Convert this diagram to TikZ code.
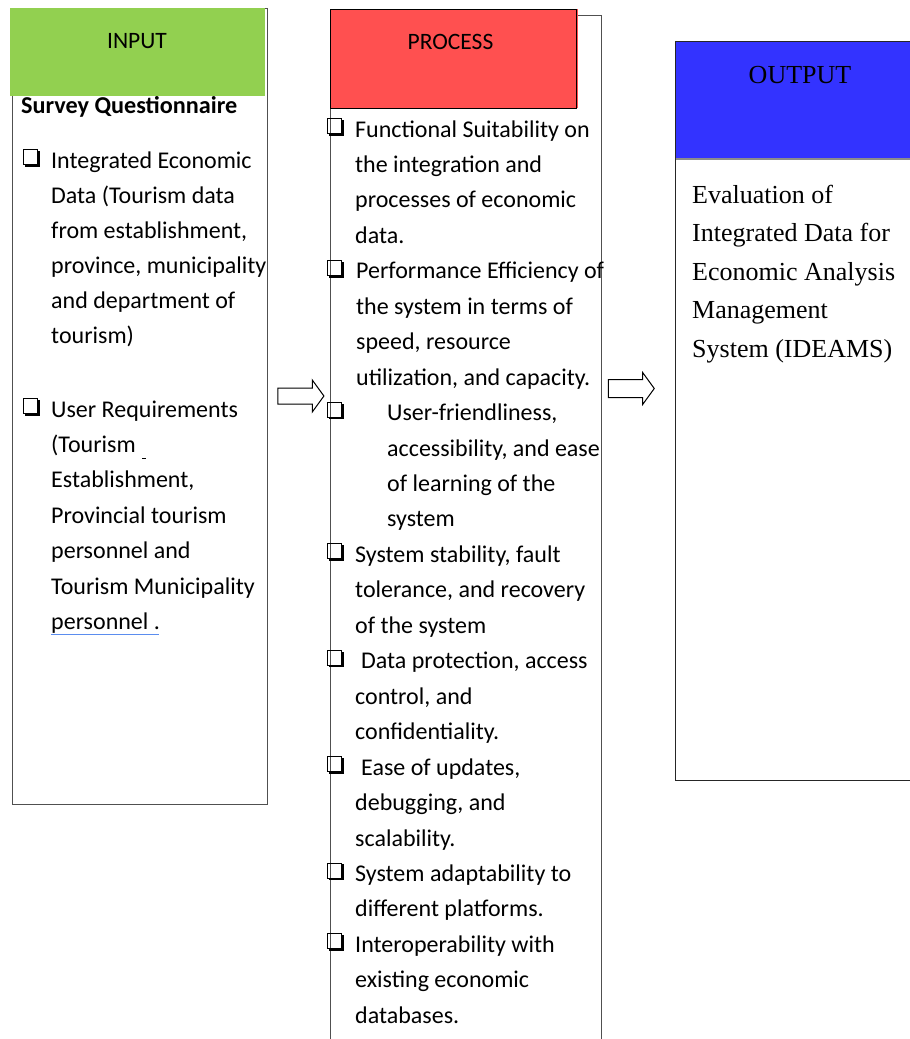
\documentclass[tikz,border=0pt]{standalone}
\usepackage{fontspec}
\setmainfont{Carlito}
\newfontfamily\tnr{Liberation Serif}
\usetikzlibrary{shapes.arrows}
\definecolor{ingreen}{HTML}{92D050}
\definecolor{procred}{HTML}{FF5050}
\definecolor{outblue}{HTML}{3333FF}
\definecolor{boxgray}{HTML}{505050}
\definecolor{ulblue}{HTML}{5B8DEF}
\begin{document}
\begin{tikzpicture}[x=1pt,y=-1pt,
  txt/.style={anchor=base west, inner sep=0pt, font=\fontsize{24}{28}\selectfont},
  headtxt/.style={anchor=base, inner sep=0pt, font=\fontsize{23.5}{28}\selectfont},
  otxt/.style={anchor=base west, inner sep=0pt, font=\tnr\fontsize{26}{31}\selectfont},
  frame/.style={draw=boxgray, line width=0.9pt, inner sep=0pt, anchor=north west},
  blockarrow/.style={shape=single arrow, draw=black, line width=1pt, fill=white,
    inner xsep=0pt, single arrow head indent=0pt, single arrow tip angle=108},
  cbox/.pic={\draw[line width=0.9pt] (0,0) rectangle (14,15);
             \draw[line width=2.2pt] (1.5,16.1) -- (15.1,16.1) -- (15.1,1.5);}
]
\useasboundingbox (0,0) rectangle (910,1039);
% ---------- INPUT ----------
\node[frame, minimum width=255pt, minimum height=796pt] (inbox) at (12,8) {};
\node[fill=ingreen, inner sep=0pt, anchor=north west, minimum width=255pt, minimum height=88pt] (inhead) at (10,8) {};
\node[headtxt] (intitle) at (137,48) {INPUT};
\node[txt, font=\fontsize{24.2}{28}\selectfont\bfseries] (survey) at (21,113) {Survey Questionnaire};
\pic at (23.5,149.5) {cbox};
\foreach \t [count=\i from 0] in {{Integrated Economic},{Data (Tourism data},{from establishment,},{province, municipality},{and department of},{tourism)}}
  \node[txt] (inA\i) at (51,{168+35.1*\i}) {\t};
\pic at (23.5,398.5) {cbox};
\foreach \t [count=\i from 0] in {{User Requirements},{(Tourism},{Establishment,},{Provincial tourism},{personnel and},{Tourism Municipality},{personnel .}}
  \node[txt] (inB\i) at (51,{417+35.45*\i}) {\t};
\draw[line width=1pt] (142,458.5) -- (145.5,458.5);
\draw[ulblue, line width=1.3pt] (inB6.base west) ++(0,4.5) -- ++(108,0);
% ---------- PROCESS ----------
\node[frame, minimum width=271pt, minimum height=1040pt] (procbox) at (330,15) {};
\node[fill=procred, inner sep=0pt, anchor=north west, minimum width=248pt, minimum height=99pt] (prochead) at (330,9) {};
\draw[black, line width=1pt] (prochead.north west) rectangle ([xshift=-1.5pt]prochead.south east);
\node[headtxt] (proctitle) at (450.5,49) {PROCESS};
\foreach \k/\x/\t in {0/355/{Functional Suitability on},1/355/{the integration and},2/355/{processes of economic},3/355/{data.},
  4/356/{Performance Efficiency of},5/356/{the system in terms of},6/356/{speed, resource},7/356/{utilization, and capacity.},
  8/387/{User-friendliness,},9/387/{accessibility, and ease},10/387/{of learning of the},11/387/{system},
  12/355/{System stability, fault},13/355/{tolerance, and recovery},14/355/{of the system},
  15/361/{Data protection, access},16/355/{control, and},17/355/{confidentiality.},
  18/361/{Ease of updates,},19/355/{debugging, and},20/355/{scalability.},
  21/355/{System adaptability to},22/355/{different platforms.},
  23/355/{Interoperability with},24/355/{existing economic},25/355/{databases.}}
  \node[txt] (pr\k) at (\x,{137+35.45*\k}) {\t};
\foreach \k in {0,4,8,12,15,18,21,23}
  \pic at (327.5,{137+35.45*\k-18.5}) {cbox};
% ---------- OUTPUT ----------
\node[draw=black!85, line width=1.2pt, inner sep=0pt, anchor=north west, minimum width=245pt, minimum height=739pt] (outbox) at (675,41) {};
\node[fill=outblue, inner sep=0pt, anchor=north west, minimum width=240pt, minimum height=117pt] (outhead) at (675.6,41.6) {};
\draw[black!45, line width=1.2pt] (outhead.south west) -- (outhead.south east);
\node[anchor=base, inner sep=0pt, font=\tnr\fontsize{26}{31}\selectfont] (outtitle) at (800,83) {OUTPUT};
\foreach \t [count=\i from 0] in {{Evaluation of},{Integrated Data for},{Economic Analysis},{Management},{System (IDEAMS)}}
  \node[otxt] (out\i) at (692,{203+38.5*\i}) {\t};
% ---------- ARROWS ----------
\node[blockarrow, inner ysep=7.5pt, single arrow head extend=8pt, minimum height=46pt] (arr1) at (298,396) {};
\node[blockarrow, inner ysep=8.5pt, single arrow head extend=7pt, minimum height=46pt] (arr2) at (628,388.5) {};
\end{tikzpicture}
\end{document}
